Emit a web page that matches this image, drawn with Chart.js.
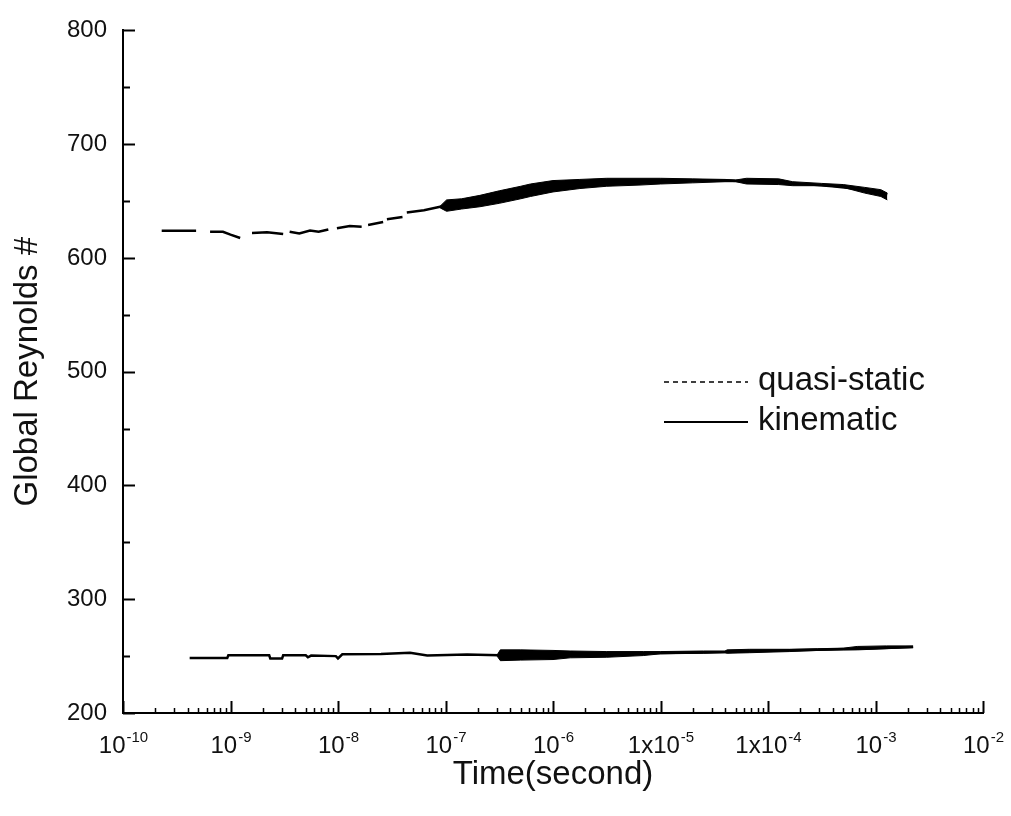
<!DOCTYPE html>
<html lang="en">
<head>
<meta charset="UTF-8" />
<meta name="viewport" content="width=device-width, initial-scale=1.0" />
<script src="https://cdn.jsdelivr.net/npm/chart.js"></script>
<title>Global Reynolds # vs time</title>
<style>
  body { margin: 0; background: #fff; }
  #wrap { position: relative; width: 1011px; height: 816px; }
</style>
</head>
<body>
<div id="wrap"><canvas id="reynolds"></canvas></div>
<script>
// time values are stored as log10(seconds)

// quasi-static: centre line (null = gap in the trace)
const qsExp = [-9.64, -9.32, -9.26, -9.19, -9.07, -9.00, -8.91, -8.86, -8.80, -8.66, -8.51, -8.48,
  -8.45, -8.36, -8.26, -8.18, -8.09, -8.05, -8.01, -7.89, -7.78, -7.75, -7.72, -7.58, -7.56,
  -7.545, -7.40, -7.38, -7.36, -7.20, -7.05, -6.90, -6.70, -6.50, -6.30, -6.10, -5.90, -5.70,
  -5.50, -5.30, -5.00, -4.70, -4.40, -4.20, -4.00, -3.80, -3.60, -3.40, -3.20, -3.00, -2.89];
const qsValue = [624, 624, null, 623, 623, 620.5, 617.5, null, 622, 622.5, 621, null,
  623, 621.5, 624, 623, 625, null, 626, 628, 627.5, null, 629, 631.5, null,
  634, 636, null, 640, 642, 645, 647, 650, 654, 657, 661, 664, 666,
  667, 667, 668, 668, 668, 667.5, 667, 665.5, 664.5, 663, 661, 658, 656];

// quasi-static: noisy band envelope
const qsBandExp = [-7.05, -6.99, -6.85, -6.68, -6.50, -6.30, -6.21, -6.00, -5.75, -5.50, -5.20,
  -5.00, -4.70, -4.40, -4.30, -4.20, -3.90, -3.77, -3.50, -3.30, -3.10, -2.95, -2.89];
const qsBandHigh = [645.5, 651, 652, 655, 659, 663, 665, 668, 669, 670, 670,
  670, 669.5, 669, 668.5, 670, 669.5, 667, 665.5, 664.5, 662, 660, 657];
const qsBandLow = [644, 641, 643, 645, 648, 652, 654, 658, 661, 663, 664,
  665, 666, 667, 667, 665, 664.5, 663.5, 663.5, 662, 657, 654, 651];

// kinematic: centre line
const kinExp = [-9.38, -9.03, -9.02, -8.64, -8.63, -8.52, -8.51, -8.30, -8.28, -8.25, -8.02,
  -8.00, -7.96, -7.60, -7.33, -7.17, -6.80, -6.50, -6.20, -5.84, -5.16, -4.38, -4.17,
  -3.54, -3.17, -2.65];
const kinValue = [248.4, 248.4, 250.7, 250.7, 248, 248, 250.7, 250.7, 249, 250.5, 250,
  248, 251.6, 251.8, 253, 250.5, 251.5, 250.7, 251, 251.6, 252.5, 253.6, 254.5,
  255.6, 256.5, 258];

// kinematic: noisy band envelope
const kinBandExp = [-6.52, -6.49, -6.30, -6.00, -5.84, -5.50, -5.16, -5.00, -4.60, -4.40, -4.38,
  -4.17, -3.80, -3.54, -3.30, -3.17, -2.90, -2.65];
const kinBandHigh = [251, 255.5, 255.5, 255, 254.5, 254, 254, 254, 254.5, 254.5, 255.5,
  256, 256, 256.5, 257, 258.5, 259, 259];
const kinBandLow = [250, 246, 246.5, 247, 248.5, 249, 250.5, 252, 252.5, 253, 252.5,
  253, 254, 255, 255.5, 255.5, 256.5, 257.5];

const seriesNames = ["quasi-static", "kinematic"];

// x axis labels: base text + exponent
const xTickExp = [-10, -9, -8, -7, -6, -5, -4, -3, -2];
const xTickBase = ["10", "10", "10", "10", "10", "1x10", "1x10", "10", "10"];
const xTickSup = ["-10", "-9", "-8", "-7", "-6", "-5", "-4", "-3", "-2"];

const FONT = "'Liberation Sans', Arial, sans-serif";

function pts(ex, ys) {
  return ex.map((e, i) => ({ x: Math.pow(10, e), y: ys[i] }));
}

// tick marks (inward), x tick labels with superscripts, legend
const axisDecor = {
  id: "axisDecor",
  afterDraw(chart) {
    const ctx = chart.ctx;
    const area = chart.chartArea;
    const xs = chart.scales.x;
    const ys = chart.scales.y;
    ctx.save();
    ctx.strokeStyle = "#000";

    // y ticks
    ys.ticks.forEach((t) => {
      const py = Math.round(ys.getPixelForValue(t.value)) + 0.5;
      const major = t.value % 100 === 0;
      ctx.lineWidth = 2;
      ctx.beginPath();
      ctx.moveTo(area.left, py);
      ctx.lineTo(area.left + (major ? 12 : 7), py);
      ctx.stroke();
    });

    // x ticks, log decades with minors
    for (let d = xTickExp[0]; d <= xTickExp[xTickExp.length - 1]; d++) {
      for (let m = 1; m <= 9; m++) {
        if (d === xTickExp[xTickExp.length - 1] && m > 1) break;
        const px = Math.round(xs.getPixelForValue(m * Math.pow(10, d))) + 0.5;
        ctx.lineWidth = m === 1 ? 2 : 1.5;
        ctx.beginPath();
        ctx.moveTo(px, area.bottom);
        ctx.lineTo(px, area.bottom - (m === 1 ? 12 : 5));
        ctx.stroke();
      }
    }

    // x tick labels
    ctx.fillStyle = "#111";
    ctx.textBaseline = "alphabetic";
    ctx.textAlign = "left";
    xTickExp.forEach((e, i) => {
      const px = xs.getPixelForValue(Math.pow(10, e));
      ctx.font = "24px " + FONT;
      const wb = ctx.measureText(xTickBase[i]).width;
      ctx.font = "15px " + FONT;
      const ws = ctx.measureText(xTickSup[i]).width;
      const x0 = px - (wb + ws) / 2;
      ctx.font = "24px " + FONT;
      ctx.fillText(xTickBase[i], x0, area.bottom + 40);
      ctx.font = "15px " + FONT;
      ctx.fillText(xTickSup[i], x0 + wb + 1, area.bottom + 29);
    });

    // legend
    const legendItems = chart.data.datasets.filter((ds) => ds.inLegend);
    legendItems.forEach((ds, i) => {
      const y = 382 + i * 40;
      ctx.strokeStyle = "#000";
      ctx.lineWidth = ds.legendWidth;
      ctx.setLineDash(ds.legendDash);
      ctx.beginPath();
      ctx.moveTo(664, y);
      ctx.lineTo(748, y);
      ctx.stroke();
      ctx.setLineDash([]);
      ctx.font = "33px " + FONT;
      ctx.textBaseline = "middle";
      ctx.fillStyle = "#111";
      ctx.fillText(ds.label, 758, y - 1);
    });
    ctx.restore();
  },
};

const ctx = document.getElementById("reynolds");

new Chart(ctx, {
  type: "line",
  data: {
    datasets: [
      {
        label: "qs band high",
        data: pts(qsBandExp, qsBandHigh),
        borderColor: "#000",
        backgroundColor: "#000",
        borderWidth: 1,
        fill: "+1",
        pointRadius: 0,
      },
      {
        label: "qs band low",
        data: pts(qsBandExp, qsBandLow),
        borderColor: "#000",
        borderWidth: 1,
        fill: false,
        pointRadius: 0,
      },
      {
        label: seriesNames[0],
        data: pts(qsExp, qsValue),
        borderColor: "#000",
        borderWidth: 2.5,
        pointRadius: 0,
        spanGaps: false,
        fill: false,
        inLegend: true,
        legendDash: [5, 4],
        legendWidth: 1.5,
      },
      {
        label: "kin band high",
        data: pts(kinBandExp, kinBandHigh),
        borderColor: "#000",
        backgroundColor: "#000",
        borderWidth: 1,
        fill: "+1",
        pointRadius: 0,
      },
      {
        label: "kin band low",
        data: pts(kinBandExp, kinBandLow),
        borderColor: "#000",
        borderWidth: 1,
        fill: false,
        pointRadius: 0,
      },
      {
        label: seriesNames[1],
        data: pts(kinExp, kinValue),
        borderColor: "#000",
        borderWidth: 2.5,
        pointRadius: 0,
        fill: false,
        inLegend: true,
        legendDash: [],
        legendWidth: 2,
      },
    ],
  },
  options: {
    responsive: true,
    maintainAspectRatio: false,
    animation: false,
    layout: { padding: { top: 23, right: 28, left: 0, bottom: 0 } },
    plugins: {
      legend: { display: false },
      tooltip: { enabled: false },
    },
    scales: {
      x: {
        type: "logarithmic",
        min: 1e-10,
        max: 1e-2,
        grid: { display: false, drawTicks: false },
        border: { display: true, color: "#000", width: 2 },
        ticks: { display: false },
        title: {
          display: true,
          text: "Time(second)",
          color: "#111",
          font: { size: 33, family: FONT },
          padding: { top: 0, bottom: 21 },
        },
        afterFit(scale) {
          scale.height = 103;
        },
      },
      y: {
        type: "linear",
        min: 200,
        max: 800,
        grid: { display: false, drawTicks: false },
        border: { display: true, color: "#000", width: 2 },
        ticks: {
          stepSize: 50,
          padding: 16,
          color: "#111",
          font: { size: 24, family: FONT },
          callback: (v) => (v % 100 === 0 ? v : ""),
        },
        title: {
          display: true,
          text: "Global Reynolds #",
          color: "#111",
          font: { size: 33, family: FONT },
          padding: { top: 8, bottom: 0 },
        },
        afterFit(scale) {
          scale.width = 123;
        },
      },
    },
  },
  plugins: [axisDecor],
});
</script>
</body>
</html>
